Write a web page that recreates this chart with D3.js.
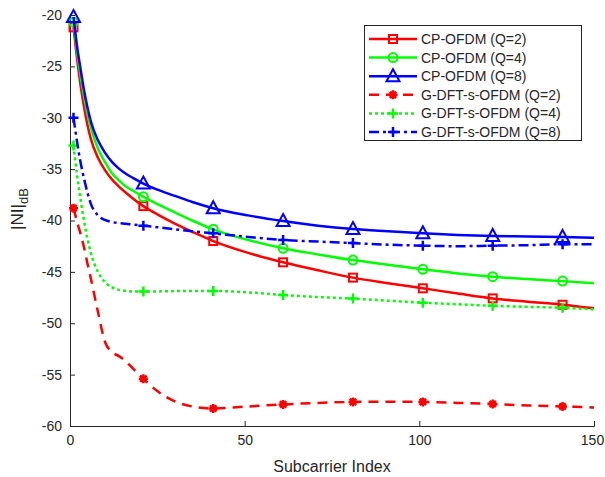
<!DOCTYPE html>
<html><head><meta charset="utf-8">
<script src="https://cdn.jsdelivr.net/npm/d3@7"></script>
<style>
body{margin:0;background:#fff}
text{font-family:"Liberation Sans",Arial,Helvetica,sans-serif;fill:#262626}
</style>
</head><body>
<svg id="chart" width="605" height="477"></svg>
<script>
// ---- data ----
const subcarrier = [1,2,3,4,5,6,8,10,12,14,16,18,21,25,30,35,41,51,61,71,81,91,101,111,121,131,141,150];
const cpQ2  = [-21.2,-24.2,-26.8,-28.9,-30.7,-32.1,-33.9,-35.1,-36.0,-36.7,-37.3,-37.85,-38.6,-39.4,-40.3,-41.1,-42.0,-43.15,-44.07,-44.85,-45.56,-46.1,-46.6,-47.1,-47.58,-47.9,-48.2,-48.55];
const cpQ4  = [-20.7,-23.5,-25.9,-27.9,-29.6,-31.0,-33.0,-34.3,-35.4,-36.1,-36.7,-37.1,-37.7,-38.4,-39.2,-40.0,-40.86,-41.9,-42.7,-43.3,-43.85,-44.3,-44.75,-45.15,-45.47,-45.7,-45.9,-46.1];
const cpQ8  = [-20.2,-23.0,-25.2,-27.3,-29.0,-30.4,-32.2,-33.4,-34.3,-34.95,-35.45,-35.85,-36.4,-37.0,-37.6,-38.2,-38.8,-39.5,-40.05,-40.5,-40.83,-41.05,-41.25,-41.4,-41.5,-41.55,-41.6,-41.67];
const gQ2   = [-38.8,-40.1,-41.3,-42.6,-44.2,-45.7,-48.9,-51.8,-52.8,-53.2,-53.7,-54.4,-55.4,-56.6,-57.6,-58.1,-58.3,-58.1,-57.9,-57.75,-57.66,-57.63,-57.66,-57.75,-57.86,-58.0,-58.1,-58.2];
const gQ4   = [-32.7,-35.6,-37.9,-40.0,-41.8,-43.2,-45.0,-46.0,-46.5,-46.75,-46.85,-46.9,-46.9,-46.9,-46.87,-46.85,-46.85,-47.0,-47.25,-47.45,-47.6,-47.8,-48.0,-48.15,-48.3,-48.4,-48.5,-48.65];
const gQ8   = [-30.0,-32.3,-34.3,-35.9,-37.3,-38.4,-39.5,-39.95,-40.15,-40.25,-40.32,-40.4,-40.5,-40.65,-40.85,-41.05,-41.25,-41.6,-41.9,-42.05,-42.2,-42.35,-42.45,-42.5,-42.45,-42.4,-42.3,-42.3];
const seriesNames = ["CP-OFDM (Q=2)","CP-OFDM (Q=4)","CP-OFDM (Q=8)","G-DFT-s-OFDM (Q=2)","G-DFT-s-OFDM (Q=4)","G-DFT-s-OFDM (Q=8)"];
const markerAt = [1,21,41,61,81,101,121,141];
const xTicks = [0,50,100,150];
const yTicks = [-60,-55,-50,-45,-40,-35,-30,-25,-20];
const xLabel = "Subcarrier Index";

// ---- styles ----
const styles = [
  {color:"#ff0000", dash:null,        marker:"square"},
  {color:"#00ff00", dash:null,        marker:"circle"},
  {color:"#0000ff", dash:null,        marker:"triangle"},
  {color:"#ff0000", dash:"10,7",      marker:"asterisk"},
  {color:"#00ff00", dash:"3,3",       marker:"plus"},
  {color:"#0000ff", dash:"10,4,3,4",  marker:"plus"}
];
const allValues = [cpQ2,cpQ4,cpQ8,gQ2,gQ4,gQ8];

const svg = d3.select("#chart");
const x = d3.scaleLinear().domain([0,150]).range([70,594]);
const y = d3.scaleLinear().domain([-60,-20]).range([426,15]);

// axes
const axisColor = "#262626";
const xAxis = svg.append("g").attr("transform","translate(0,426)")
  .call(d3.axisBottom(x).tickValues(xTicks).tickSize(-5).tickPadding(9).tickFormat(d3.format("d")));
const yAxis = svg.append("g").attr("transform","translate(70,0)")
  .call(d3.axisLeft(y).tickValues(yTicks).tickSize(-5).tickPadding(8).tickFormat(d3.format("d")));
[xAxis,yAxis].forEach(g=>{
  g.select(".domain").attr("stroke",axisColor).attr("stroke-width",1);
  g.selectAll(".tick line").attr("stroke",axisColor).attr("stroke-width",1);
  g.selectAll(".tick text").attr("font-size",14).attr("fill",axisColor)
   .style("font-family","'Liberation Sans',Arial,sans-serif");
});
yAxis.selectAll(".tick text").text(d=>String(d));
xAxis.selectAll(".tick text").filter(d=>d===150).attr("dx",-2);

svg.append("text").attr("x",(70+594)/2).attr("y",472).attr("text-anchor","middle")
  .attr("font-size",16).text(xLabel);
const yl = svg.append("text").attr("transform","translate(23,209) rotate(-90)")
  .attr("text-anchor","middle").attr("font-size",17);
yl.append("tspan").text("|NI|");
yl.append("tspan").attr("font-size",13).attr("dy",5).text("dB");

// markers
function drawMarker(g, type, cx, cy, color){
  const sw = 2;
  if(type==="square"){
    g.append("rect").attr("x",cx-4).attr("y",cy-4).attr("width",8).attr("height",8)
     .attr("fill","none").attr("stroke",color).attr("stroke-width",sw);
  } else if(type==="circle"){
    g.append("circle").attr("cx",cx).attr("cy",cy).attr("r",4.5)
     .attr("fill","none").attr("stroke",color).attr("stroke-width",sw);
  } else if(type==="triangle"){
    g.append("path").attr("d",`M${cx},${cy-7}L${cx+6.5},${cy+5}L${cx-6.5},${cy+5}Z`)
     .attr("fill","none").attr("stroke",color).attr("stroke-width",sw);
  } else if(type==="plus"){
    g.append("path").attr("d",`M${cx-5},${cy}H${cx+5}M${cx},${cy-5}V${cy+5}`)
     .attr("stroke",color).attr("stroke-width",2.5);
  } else if(type==="asterisk"){
    const r=4.5, d=3.2;
    g.append("path").attr("d",`M${cx-r},${cy}H${cx+r}M${cx},${cy-r}V${cy+r}M${cx-d},${cy-d}L${cx+d},${cy+d}M${cx-d},${cy+d}L${cx+d},${cy-d}`)
     .attr("stroke",color).attr("stroke-width",2.5);
  }
}

const line = d3.line().x(d=>x(d[0])).y(d=>y(d[1])).curve(d3.curveMonotoneX);
allValues.forEach((vals,i)=>{
  const st = styles[i];
  const pts = subcarrier.map((s,k)=>[s,vals[k]]);
  const g = svg.append("g");
  g.append("path").datum(pts).attr("d",line).attr("fill","none")
   .attr("stroke",st.color).attr("stroke-width",2.5)
   .attr("stroke-dasharray",st.dash).attr("stroke-linejoin","round");
  markerAt.forEach(m=>{
    const k = subcarrier.indexOf(m);
    drawMarker(g, st.marker, x(m), y(vals[k]), st.color);
  });
});

// legend
const lg = svg.append("g");
lg.append("rect").attr("x",364.5).attr("y",25.5).attr("width",217).attr("height",115)
  .attr("fill","#fff").attr("stroke",axisColor).attr("stroke-width",1);
seriesNames.forEach((name,i)=>{
  const st = styles[i];
  const cy = 39 + i*18.6;
  lg.append("line").attr("x1",369).attr("x2",417).attr("y1",cy).attr("y2",cy)
    .attr("stroke",st.color).attr("stroke-width",2.5).attr("stroke-dasharray",st.dash);
  drawMarker(lg, st.marker, 393, cy, st.color);
  lg.append("text").attr("x",421).attr("y",cy+5).attr("font-size",14).text(name);
});
</script>
</body></html>
